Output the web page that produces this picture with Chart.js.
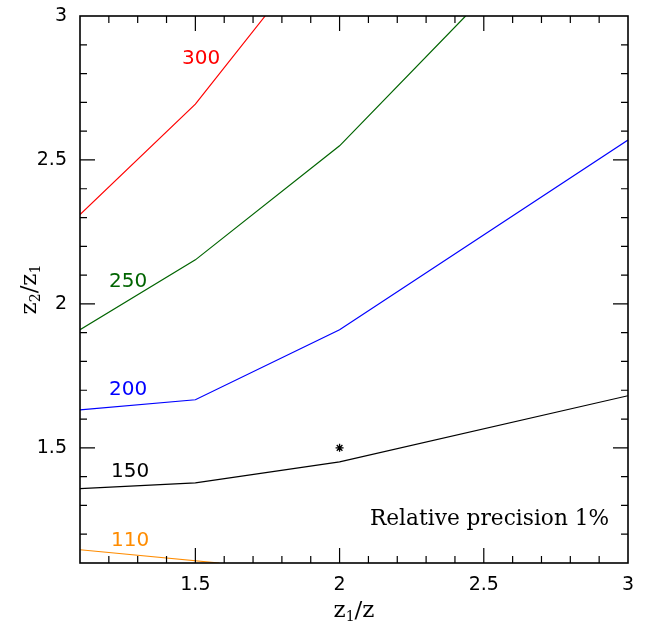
<!DOCTYPE html>
<html><head><meta charset="utf-8">
<script src="https://cdn.jsdelivr.net/npm/chart.js@4/dist/chart.umd.min.js"></script>
<style>html,body{margin:0;padding:0;background:#fff}#wrap{width:652px;height:624px}</style>
</head><body><div id="wrap"><canvas id="c" width="652" height="624"></canvas></div>
<script>
// ---- data ----
const xMin = 1.1, xMax = 3, yMin = 1.1, yMax = 3;
const xTickLabels = [1.5, 2, 2.5, 3];
const yTickLabels = [1.5, 2, 2.5, 3];

const red300X = [1.1, 1.5, 1.742];
const red300Y = [2.31, 2.694, 3.0];
const green250X = [1.1, 1.5, 2.0, 2.437];
const green250Y = [1.91, 2.153, 2.549, 3.0];
const blue200X = [1.1, 1.5, 2.0, 3.0];
const blue200Y = [1.632, 1.667, 1.91, 2.569];
const black150X = [1.1, 1.5, 2.0, 3.0];
const black150Y = [1.358, 1.378, 1.451, 1.681];
const orange110X = [1.1, 1.583];
const orange110Y = [1.146, 1.1];
const starX = [2.0];
const starY = [1.5];

const curveNames = ['300', '250', '200', '150', '110'];
const curveColors = ['#ff0000', '#006400', '#0000ff', '#000000', '#ff8c00'];
const labelX = [1.52, 1.267, 1.267, 1.274, 1.274];
const labelY = [2.851, 2.076, 1.701, 1.417, 1.177];
const noteText = 'Relative precision 1%';
const noteX = 2.52, noteY = 1.253;

function pts(xs, ys) { return xs.map((x, i) => ({x: x, y: ys[i]})); }
const seriesX = [red300X, green250X, blue200X, black150X, orange110X];
const seriesY = [red300Y, green250Y, blue200Y, black150Y, orange110Y];

const datasets = seriesX.map((xs, i) => ({
  label: curveNames[i], data: pts(xs, seriesY[i]), showLine: true,
  borderColor: curveColors[i], borderWidth: 1.2, pointRadius: 0, fill: false, tension: 0
}));
datasets.push({label: 'star', data: pts(starX, starY), showLine: false,
  pointStyle: 'star', pointRadius: 4, borderColor: '#000', borderWidth: 1.3, backgroundColor: '#000'});

const framePlugin = {
  id: 'frame',
  afterDatasetsDraw(chart) {
    const {ctx, chartArea: a, scales} = chart;
    const xs = scales.x, ys = scales.y;
    ctx.save();
    ctx.strokeStyle = '#000';
    ctx.lineWidth = 1.6;
    ctx.strokeRect(a.left, a.top, a.right - a.left, a.bottom - a.top);
    ctx.lineWidth = 1.2;
    ctx.beginPath();
    for (let k = 11; k <= 30; k++) {
      const v = k / 10;
      const major = (k % 5 === 0);
      const L = major ? 15 : 7;
      const px = xs.getPixelForValue(v);
      if (px > a.left + 1 && px < a.right - 1) {
        ctx.moveTo(px, a.bottom); ctx.lineTo(px, a.bottom - L);
        ctx.moveTo(px, a.top); ctx.lineTo(px, a.top + L);
      }
      const py = ys.getPixelForValue(v);
      if (py > a.top + 1 && py < a.bottom - 1) {
        ctx.moveTo(a.left, py); ctx.lineTo(a.left + L, py);
        ctx.moveTo(a.right, py); ctx.lineTo(a.right - L, py);
      }
    }
    ctx.stroke();

    // curve labels
    ctx.font = '20px "DejaVu Sans", sans-serif';
    ctx.textAlign = 'center'; ctx.textBaseline = 'middle';
    curveNames.forEach((n, i) => {
      ctx.fillStyle = curveColors[i];
      ctx.fillText(n, xs.getPixelForValue(labelX[i]), ys.getPixelForValue(labelY[i]));
    });
    // note, sized to the reference width
    ctx.fillStyle = '#000';
    ctx.font = '20px "DejaVu Serif", serif';
    const w0 = ctx.measureText(noteText).width;
    const fs = 20 * 239 / w0;
    ctx.font = fs.toFixed(1) + 'px "DejaVu Serif", serif';
    ctx.fillText(noteText, xs.getPixelForValue(noteX), ys.getPixelForValue(noteY));

    // axis titles with subscripts
    function subText(parts, cx, cy) {
      const big = '23px "DejaVu Serif", serif', small = '14px "DejaVu Serif", serif';
      let w = 0;
      parts.forEach(p => { ctx.font = p[1] ? small : big; w += ctx.measureText(p[0]).width; });
      let x = cx - w / 2;
      ctx.textAlign = 'left'; ctx.textBaseline = 'alphabetic';
      parts.forEach(p => {
        ctx.font = p[1] ? small : big;
        ctx.fillText(p[0], x, cy + (p[1] ? 4 : 0));
        x += ctx.measureText(p[0]).width;
      });
    }
    subText([['z', 0], ['1', 1], ['/z', 0]], (a.left + a.right) / 2, 617);
    ctx.save();
    ctx.translate(36, (a.top + a.bottom) / 2);
    ctx.rotate(-Math.PI / 2);
    subText([['z', 0], ['2', 1], ['/z', 0], ['1', 1]], 0, 0);
    ctx.restore();
    ctx.restore();
  }
};

new Chart(document.getElementById('c'), {
  type: 'scatter',
  data: {datasets},
  options: {
    responsive: false, animation: false, devicePixelRatio: 1,
    layout: {padding: {top: 16, right: 24, left: 0, bottom: 0}},
    plugins: {legend: {display: false}, tooltip: {enabled: false}},
    scales: {
      x: {type: 'linear', min: xMin, max: xMax,
        afterBuildTicks: s => { s.ticks = xTickLabels.map(v => ({value: v})); },
        afterFit: s => { s.height = 61; s.paddingLeft = 0; s.paddingRight = 0; },
        grid: {display: false, drawTicks: false}, border: {display: false},
        ticks: {padding: 11, color: '#000', font: {family: '"DejaVu Sans", sans-serif', size: 19},
          callback: v => String(v), maxRotation: 0, autoSkip: false}},
      y: {type: 'linear', min: yMin, max: yMax,
        afterBuildTicks: s => { s.ticks = yTickLabels.map(v => ({value: v})); },
        afterFit: s => { s.width = 80; s.paddingTop = 0; s.paddingBottom = 0; },
        grid: {display: false, drawTicks: false}, border: {display: false},
        ticks: {padding: 13, color: '#000', font: {family: '"DejaVu Sans", sans-serif', size: 19},
          callback: v => String(v), autoSkip: false}}
    }
  },
  plugins: [framePlugin]
});
</script></body></html>
